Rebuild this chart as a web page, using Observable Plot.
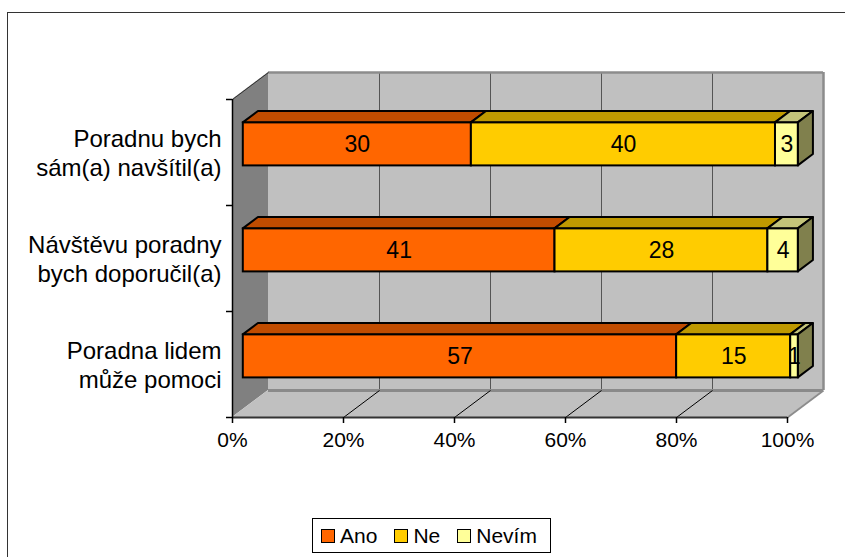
<!DOCTYPE html>
<html>
<head>
<meta charset="utf-8">
<script src="https://cdn.jsdelivr.net/npm/d3@7"></script>
<script src="https://cdn.jsdelivr.net/npm/@observablehq/plot@0.6"></script>
<style>
  body { margin: 0; background: #fff; font-family: Arial, "Liberation Sans", sans-serif; }
  #wrap { position: relative; width: 845px; height: 557px; overflow: hidden; background: #fff; }
  #frame { position: absolute; left: 7px; top: 12px; width: 900px; height: 600px;
           border-left: 1.5px solid #333; border-top: 1.5px solid #333; }
  #chart { position: absolute; left: 0; top: 0; }
  #legend { position: absolute; left: 312px; top: 518px; width: 239px; height: 35px;
            border: 1px solid #000; box-sizing: border-box; display: flex; align-items: center;
            padding-left: 8px; font-size: 21px; color: #000; background: #fff; white-space: nowrap; }
  .item { display: flex; align-items: center; margin-right: 17px; }
  .sw { width: 12px; height: 12px; border: 1px solid #000; margin-right: 5px; }
</style>
</head>
<body>
<div id="wrap">
  <div id="frame"></div>
  <div id="chart"></div>
  <div id="legend"></div>
</div>
<script>
// ---- data ----
const categories = ["Poradna lidem\nmůže pomoci", "Návštěvu poradny\nbych doporučil(a)", "Poradnu bych\nsám(a) navšítil(a)"]; // bottom -> top
const series = ["Ano", "Ne", "Nevím"];
const ano = [57, 41, 30];
const ne = [15, 28, 40];
const nevim = [1, 4, 3];
const xTicks = [0, 20, 40, 60, 80, 100];
const frontColors = ["#FF6600", "#FFCC00", "#FFFF99"];
const topColors = ["#C04C00", "#BF9900", "#C4C47A"];
const sideColors = ["#803300", "#806600", "#80804D"];

// ---- geometry (styling constants) ----
const W = 845, H = 557;
const mL = 232, mR = 58, mT = 99, mB = 140;
const pxX = (W - mL - mR) / 100;      // px per x unit
const pxY = (H - mT - mB) / 3;        // px per category band
const DX = 36 / pxX, DY = 27 / pxY;   // full depth of the 3D box
const f0 = 0.3, f1 = 0.72;            // bar depth span
const hb = 21.5 / pxY;                // half bar height

const seriesVals = [ano, ne, nevim];
const segs = [];
categories.forEach((cat, i) => {
  const vals = seriesVals.map(a => a[i]);
  const tot = d3.sum(vals);
  let cum = 0;
  vals.forEach((v, s) => {
    const x1 = cum / tot * 100; cum += v;
    const x2 = cum / tot * 100;
    segs.push({i, s, v, x1, x2, key: i + "-" + s, c: i + 0.5});
  });
});
const topPts = segs.flatMap(d => [
  {key: d.key, y: d.c + hb + f0 * DY, x1: d.x1 + f0 * DX, x2: d.x2 + f0 * DX, fill: topColors[d.s]},
  {key: d.key, y: d.c + hb + f1 * DY, x1: d.x1 + f1 * DX, x2: d.x2 + f1 * DX, fill: topColors[d.s]}
]);
const lastSegs = segs.filter(d => d.s === series.length - 1);
const sidePts = lastSegs.flatMap(d => [
  {key: d.key, x: d.x2 + f0 * DX, y1: d.c - hb + f0 * DY, y2: d.c + hb + f0 * DY, fill: sideColors[d.s]},
  {key: d.key, x: d.x2 + f1 * DX, y1: d.c - hb + f1 * DY, y2: d.c + hb + f1 * DY, fill: sideColors[d.s]}
]);
const N = categories.length;
const sideWall = [{x: 0, y1: 0, y2: N}, {x: DX, y1: DY, y2: N + DY}];
const floor = [{y: 0, x1: 0, x2: 100}, {y: DY, x1: DX, x2: 100 + DX}];
const inner = xTicks.slice(1, -1);

const plot = Plot.plot({
  width: W, height: H,
  marginLeft: mL, marginRight: mR, marginTop: mT, marginBottom: mB,
  x: {domain: [0, 100]},
  y: {domain: [0, N]},
  color: {type: "identity"},
  style: {fontFamily: "Arial, 'Liberation Sans', sans-serif", fontSize: "20px", color: "#000", background: "transparent"},
  marks: [
    // back wall
    Plot.rect([0], {x1: DX, x2: 100 + DX, y1: DY, y2: N + DY, fill: "#C0C0C0"}),
    Plot.ruleX(inner, {x: d => d + DX, y1: DY, y2: N + DY, stroke: "#555", strokeWidth: 1}),
    Plot.ruleY([N + DY], {x1: DX, x2: 100 + DX, stroke: "#8C8C8C", strokeWidth: 2.5}),
    Plot.ruleX([100 + DX], {y1: DY, y2: N + DY, stroke: "#8C8C8C", strokeWidth: 2.5}),
    // side wall
    Plot.areaY(sideWall, {x: "x", y1: "y1", y2: "y2", fill: "#808080"}),
    Plot.link([0], {x1: 0, y1: N, x2: DX, y2: N + DY, stroke: "#333", strokeWidth: 1}),
    // floor
    Plot.areaX(floor, {y: "y", x1: "x1", x2: "x2", fill: "#C0C0C0"}),
    Plot.ruleY([DY], {x1: DX, x2: 100 + DX, stroke: "#8A8A8A", strokeWidth: 3}),
    Plot.link([0], {x1: 100, y1: 0, x2: 100 + DX, y2: DY, stroke: "#8C8C8C", strokeWidth: 2}),
    Plot.link(inner, {x1: d => d, y1: 0, x2: d => d + DX, y2: DY, stroke: "#000", strokeWidth: 1}),
    // axes lines
    Plot.ruleY([0], {x1: 0, x2: 100, stroke: "#333", strokeWidth: 2}),
    Plot.ruleX([0], {y1: 0, y2: N, stroke: "#000", strokeWidth: 1.5}),
    Plot.ruleY(d3.range(N + 1), {x1: -6 / pxX, x2: 0, stroke: "#000", strokeWidth: 1.5}),
    Plot.axisX(xTicks, {tickFormat: d => d + "%", tickSize: 6, tickPadding: 9, fontSize: 21, strokeWidth: 1.5}),
    Plot.axisY(categories.map((c, i) => i + 0.5), {tickFormat: v => categories[Math.floor(v)], tickSize: 0, tickPadding: 11, fontSize: 24, lineHeight: 1.21}),
    // bars
    Plot.areaX(topPts, {y: "y", x1: "x1", x2: "x2", z: "key", fill: "fill", stroke: "#000", strokeWidth: 2, strokeLinejoin: "round"}),
    Plot.areaY(sidePts, {x: "x", y1: "y1", y2: "y2", z: "key", fill: "fill", stroke: "#000", strokeWidth: 2, strokeLinejoin: "round"}),
    Plot.rect(segs, {x1: d => d.x1 + f0 * DX, x2: d => d.x2 + f0 * DX, y1: d => d.c - hb + f0 * DY, y2: d => d.c + hb + f0 * DY,
                     fill: d => frontColors[d.s], stroke: "#000", strokeWidth: 2}),
    Plot.text(segs, {x: d => (d.x1 + d.x2) / 2 + f0 * DX, y: d => d.c + f0 * DY, text: d => String(d.v), fill: "#000", fontSize: 23})
  ]
});
document.getElementById("chart").appendChild(plot);

// legend
const lg = document.getElementById("legend");
series.forEach((s, k) => {
  const it = document.createElement("div"); it.className = "item";
  const sw = document.createElement("div"); sw.className = "sw"; sw.style.background = frontColors[k];
  const tx = document.createElement("span"); tx.textContent = s;
  it.appendChild(sw); it.appendChild(tx); lg.appendChild(it);
});
</script>
</body>
</html>
